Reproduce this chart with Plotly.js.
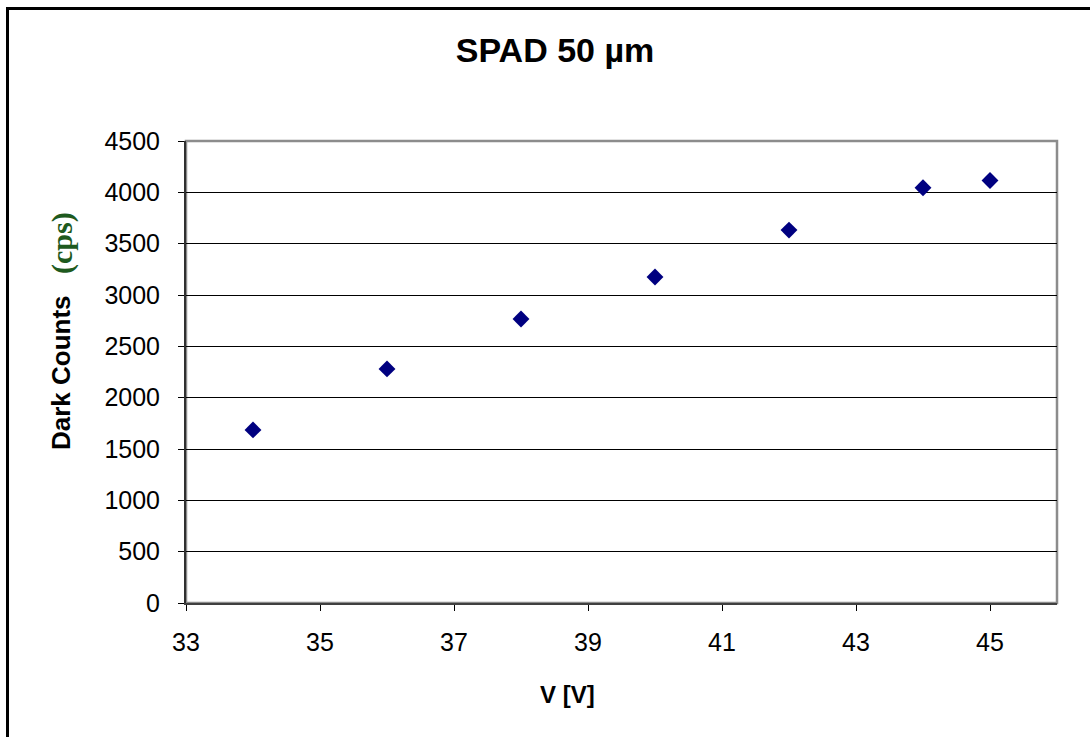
<!DOCTYPE html>
<html>
<head>
<meta charset="utf-8">
<script src="https://cdn.plot.ly/plotly-3.0.1.min.js"></script>
<style>
  html, body { margin: 0; padding: 0; background: #fff; }
  #wrap { position: relative; width: 1090px; height: 737px; overflow: hidden; }
  #chart { position: absolute; left: 0; top: 0; width: 1090px; height: 737px; }
  #frame { position: absolute; left: 6px; top: 7px; width: 1200px; height: 800px;
           border-left: 3px solid #000; border-top: 3px solid #000; pointer-events: none; }
</style>
</head>
<body>
<div id="wrap">
  <div id="chart"></div>
  <div id="frame"></div>
</div>
<script>
// Data
const voltage = [34, 36, 38, 40, 42, 44, 45];
const darkCounts = [1686, 2280, 2766, 3176, 3632, 4045, 4115];
const xTicks = [33, 35, 37, 39, 41, 43, 45];
const yTicks = [0, 500, 1000, 1500, 2000, 2500, 3000, 3500, 4000, 4500];

const L = 186, R = 1057, T = 141, B = 603, W = 1090, H = 737;
const px = v => (v - L) / (R - L);
const py = v => (B - v) / (B - T);

const trace = {
  x: voltage,
  y: darkCounts,
  type: 'scatter',
  mode: 'markers',
  marker: { symbol: 'diamond', size: 13, color: '#000080', line: { width: 0 } },
  hoverinfo: 'x+y',
  showlegend: false
};

const tickFont = { family: 'Arial, "Liberation Sans", sans-serif', size: 25, color: '#000' };

const layout = {
  width: W, height: H,
  margin: { l: L, r: W - R, t: T, b: H - B, pad: 0 },
  paper_bgcolor: '#fff',
  plot_bgcolor: '#fff',
  title: {
    text: '<b>SPAD 50 µm</b>',
    font: { family: 'Arial, "Liberation Sans", sans-serif', size: 34, color: '#000' },
    x: 555 / W, xref: 'container', xanchor: 'center',
    y: 1 - 50 / H, yref: 'container', yanchor: 'middle'
  },
  xaxis: {
    range: [33, 46],
    tickmode: 'array', tickvals: xTicks, ticktext: xTicks.map(String),
    ticks: 'outside', ticklen: 6, tickwidth: 1, tickcolor: '#000',
    showgrid: false, zeroline: false,
    showline: true, linecolor: '#404040', linewidth: 2,
    tickfont: tickFont, ticklabelstandoff: 10,
    fixedrange: true
  },
  yaxis: {
    range: [0, 4500],
    tickmode: 'array', tickvals: yTicks, ticktext: yTicks.map(String),
    ticks: 'outside', ticklen: 6, tickwidth: 1, tickcolor: '#000',
    showgrid: true, gridcolor: '#000', gridwidth: 1,
    zeroline: false,
    showline: true, linecolor: '#303030', linewidth: 2,
    tickfont: tickFont, ticklabelstandoff: 13,
    fixedrange: true
  },
  shapes: [
    { type: 'rect', xref: 'paper', yref: 'paper', x0: 0, x1: 1, y0: 0, y1: 1,
      line: { color: '#8c8c8c', width: 2.5 }, fillcolor: 'rgba(0,0,0,0)', layer: 'below' }
  ],
  annotations: [
    { text: '<b>V [V]</b>', xref: 'paper', yref: 'paper',
      x: px(567), y: py(694), xanchor: 'center', yanchor: 'middle', showarrow: false,
      font: { family: 'Arial, "Liberation Sans", sans-serif', size: 24, color: '#000' } },
    { text: '<b>Dark Counts</b>', xref: 'paper', yref: 'paper',
      x: px(61), y: py(373), xanchor: 'center', yanchor: 'middle', showarrow: false,
      textangle: -90,
      font: { family: 'Arial, "Liberation Sans", sans-serif', size: 26, color: '#000' } },
    { text: '<b>(cps)</b>', xref: 'paper', yref: 'paper',
      x: px(62), y: py(243), xanchor: 'center', yanchor: 'middle', showarrow: false,
      textangle: -90,
      font: { family: '"Times New Roman", "Liberation Serif", serif', size: 30, color: '#1e5a1e' } }
  ]
};

Plotly.newPlot('chart', [trace], layout, { displayModeBar: false, staticPlot: true });
</script>
</body>
</html>
